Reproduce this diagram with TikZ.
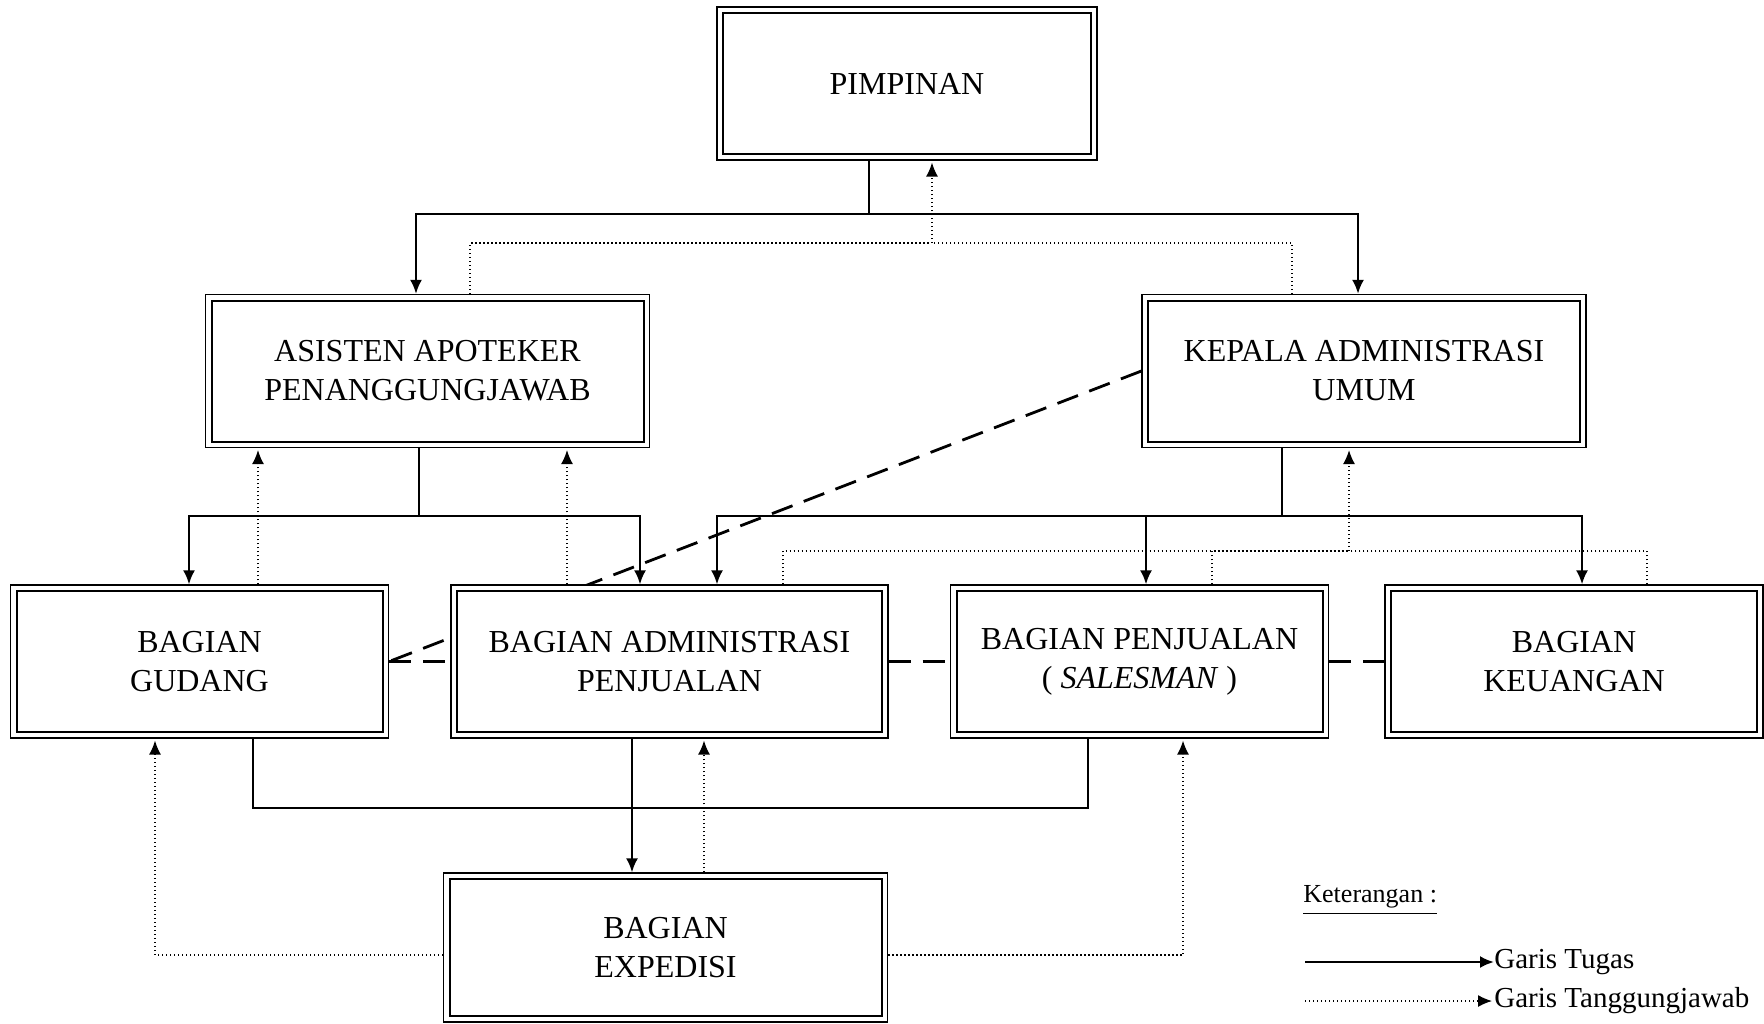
\documentclass[tikz,border=0pt]{standalone}
\usepackage{fontspec}
\setmainfont{Liberation Serif}
\usetikzlibrary{positioning,arrows.meta,backgrounds}

\tikzset{
  basic/.style  = {draw, rectangle, line width=0.6pt, fill=white, align=center,
                   inner sep=0pt, minimum height=76.5pt,
                   font=\fontsize{16}{19.5}\selectfont,
                   path picture={\draw[line width=1pt]
                     ([shift={(3pt,-3pt)}]path picture bounding box.north west) rectangle
                     ([shift={(-3pt,3pt)}]path picture bounding box.south east);}},
  narrow/.style = {basic, minimum width=189pt},
  wide/.style   = {basic, minimum width=222pt},
  tugas/.style  = {line width=1.2pt},
  tanggung/.style = {line width=0.7pt, dash pattern=on 0.7pt off 1.3pt, shorten >=1pt},
  koord/.style  = {line width=1.4pt, dash pattern=on 11pt off 6pt},
  legend/.style = {inner sep=0pt, anchor=west, font=\fontsize{14.5}{16}\selectfont}
}

\begin{document}
\begin{tikzpicture}[x=0.5pt, y=-0.5pt, >={Latex[length=7pt,width=6pt]}]
\useasboundingbox (0,0) rectangle (1764,1023);

\node[narrow, minimum width=190pt] (pim) at (907,83.5) {PIMPINAN};

% The second level
\begin{scope}[every node/.style={wide}]
\node (asis)   at (427.5,371) {ASISTEN APOTEKER\\PENANGGUNGJAWAB};
\node (kepala) at (1364,371)  {KEPALA ADMINISTRASI\\UMUM};
\end{scope}

% The third level
\begin{scope}[every node/.style={narrow}]
\node (gudang) at (199.5,661.5)  {BAGIAN\\GUDANG};
\node (sales)  at (1139.5,661.5) {BAGIAN PENJUALAN\\( \textit{SALESMAN} )};
\node (uang)   at (1574,661.5)   {BAGIAN\\KEUANGAN};
\end{scope}

\begin{scope}[every node/.style={wide}]
\node[minimum width=218.5pt] (admin) at (669.5,661.5) {BAGIAN ADMINISTRASI\\PENJUALAN};
\node[minimum height=74.5pt] (expedisi) at (665.5,947.5) {BAGIAN\\EXPEDISI};
\end{scope}

% Pimpinan
\coordinate (t1) at (869,214);
\coordinate (r1) at (932,243);
\draw[tugas] (pim.south -| t1) -- (t1);
\draw[tugas,->] (t1) -| ([xshift=-5.75pt]asis.north);
\draw[tugas,->] (t1) -| ([xshift=-3pt]kepala.north);
\draw[tanggung] ([xshift=21.25pt]asis.north) |- (r1);
\draw[tanggung] ([xshift=-36pt]kepala.north) |- (r1);
\draw[tanggung,->] (r1) -- (r1 |- pim.south);

% Asisten apoteker
\coordinate (t2) at (419,516);
\draw[tugas] (asis.south -| t2) -- (t2);
\draw[tugas,->] (t2) -| ([xshift=-5.25pt]gudang.north);
\draw[tugas,->] (t2) -| ([xshift=-14.75pt]admin.north);
\foreach \nd/\dx in {gudang/29.25pt, admin/-51.25pt}
  \draw[tanggung,->] ([xshift=\dx]\nd.north) coordinate (tmp) -- (tmp |- asis.south);

% Kepala administrasi
\coordinate (t3) at (1282,516);
\coordinate (r3) at (1349,551);
\draw[tugas] (kepala.south -| t3) -- (t3);
\foreach \nd/\dx in {admin/23.75pt, sales/3.25pt, uang/4pt}
  \draw[tugas,->] (t3) -| ([xshift=\dx]\nd.north);
\foreach \nd/\dx in {admin/56.75pt, sales/36.25pt, uang/36.5pt}
  \draw[tanggung] ([xshift=\dx]\nd.north) |- (r3);
\draw[tanggung,->] (r3) -- (r3 |- kepala.south);

% Koordinasi
\begin{pgfonlayer}{background}
\draw[koord] (kepala.west) -- (gudang.east);
\end{pgfonlayer}
\draw[koord] (gudang.east) -- (admin.west);
\draw[koord] (admin.east) -- (sales.west);
\draw[koord] (sales.east) -- (uang.west);

% Expedisi
\coordinate (t4) at (632,808);
\draw[tugas] ([xshift=26.75pt]gudang.south) |- (t4) -| ([xshift=-25.75pt]sales.south);
\draw[tugas,->] (t4 |- admin.south) -- (t4 |- expedisi.north);
\draw[tanggung,->] ([xshift=19.25pt]expedisi.north) coordinate (tmp) -- (tmp |- admin.south);
\draw[tanggung,->] ([yshift=-3.75pt]expedisi.west) -| ([xshift=-22.25pt]gudang.south);
\draw[tanggung,->] ([yshift=-3.75pt]expedisi.east) -| ([xshift=21.75pt]sales.south);

% Keterangan
\node[legend, anchor=base west, font=\fontsize{13}{15}\selectfont] (ket) at (1303,902) {Keterangan :};
\draw[line width=0.5pt] ([yshift=-5.5pt]ket.base west) -- ([yshift=-5.5pt]ket.base east);
\coordinate (lt) at (1305,962);
\coordinate (lj) at (1305,1001);
\node[legend] (ltugas) at (1494,962)  {Garis Tugas};
\node[legend] (ljawab) at (1494,1001) {Garis Tanggungjawab};
\draw[tugas,->] (lt) -- (ltugas.west);
\draw[tanggung,->] (lj) -- (ljawab.west);

\end{tikzpicture}
\end{document}
